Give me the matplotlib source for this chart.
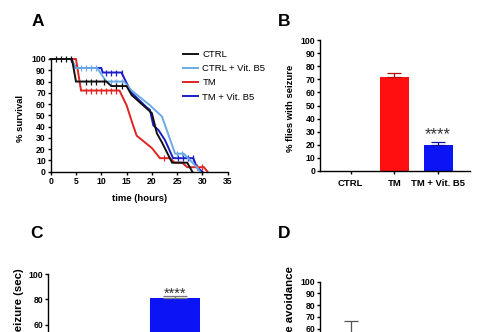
import numpy as np
import matplotlib.pyplot as plt

plt.rcParams['font.family'] = ['Liberation Sans', 'DejaVu Sans']
plt.rcParams['font.weight'] = 'bold'
plt.rcParams['axes.labelweight'] = 'bold'

W, H = 495, 332

# --- Panel A: survival curves (time in hours, % survival) ---
ctrl_t = [0, 4.2, 5, 11, 12, 15, 16, 19, 20, 21, 22, 24, 27, 28]
ctrl_s = [100, 100, 80, 80, 76, 76, 68, 56, 52, 34, 26, 8, 8, 0]
ctrl_cens_t = [1, 2, 3, 4, 7, 8, 9, 10.5, 13, 14]
ctrl_cens_s = [100, 100, 100, 100, 80, 80, 80, 80, 76, 76]

vit_t = [0, 4, 5, 9.2, 11, 14.5, 16, 19.6, 22, 24.6, 26.3, 28.9, 29.5]
vit_s = [100, 100, 92, 92, 80, 80, 72, 59, 49, 16, 16, 4, 0]
vit_cens_t = [6, 7, 8, 9, 12, 13, 14, 25, 26]
vit_cens_s = [92, 92, 92, 92, 80, 80, 80, 16, 16]

tm_t = [0, 5, 6, 13.6, 15, 16.3, 17, 20, 21.6, 23.6, 24.5, 26, 27, 30.3, 31]
tm_s = [100, 100, 72, 72, 59, 41, 32, 21, 12, 12, 8, 8, 4, 4, 0]
tm_cens_t = [7, 8, 9, 10, 11, 12, 13, 22.5, 29, 30]
tm_cens_s = [72, 72, 72, 72, 72, 72, 72, 12, 4, 4]

tmvit_t = [0, 4, 5, 10, 10.3, 14, 15.3, 16, 19, 19.6, 20.3, 21.3, 22.6, 23.6, 24.2, 28.2, 28.9, 30]
tmvit_s = [100, 100, 92, 92, 88, 88, 76, 70, 57, 55, 41, 37, 28, 18, 12, 12, 4, 0]
tmvit_cens_t = [11, 12, 13, 14, 25.2, 26.2, 27.2, 28.2]
tmvit_cens_s = [88, 88, 88, 88, 12, 12, 12, 12]

# --- Panel B: % flies with seizure ---
b_groups = ['CTRL', 'TM', 'TM + Vit. B5']
b_mean = [0, 72, 20]
b_err = [0, 2.6, 2.4]
b_stars = ['', '', '****']

# --- Panel C: seizure latency (only the top part is visible) ---
c_groups = ['TM', 'TM + Vit. B5']
c_mean = [40, 81]
c_err = [2, 1.5]
c_stars = ['', '****']

# --- Panel D: avoidance (only the top part is visible) ---
d_groups = ['CTRL']
d_mean = [55]
d_err = [11.5]

C_BLACK = '#111111'
C_LBLUE = '#6aaae6'
C_RED = '#e02424'
C_DBLUE = '#1c1cc8'
BAR_RED = '#ff0f0f'
BAR_BLUE = '#0a14f5'

fig = plt.figure(figsize=(W / 100, H / 100), dpi=100)


def px_axes(left, top, right, bottom):
    return fig.add_axes([left / W, 1 - bottom / H, (right - left) / W, (bottom - top) / H])


def style(ax):
    for s in ['top', 'right']:
        ax.spines[s].set_visible(False)
    for s in ['left', 'bottom']:
        ax.spines[s].set_linewidth(1.0)
    ax.tick_params(direction='out', length=2.5, width=1.0, pad=1, labelsize=6.2)


# A
axA = px_axes(50.7, 59, 227.7, 171.7)
style(axA)
series = [
    (tmvit_t, tmvit_s, tmvit_cens_t, tmvit_cens_s, C_DBLUE),
    (tm_t, tm_s, tm_cens_t, tm_cens_s, C_RED),
    (vit_t, vit_s, vit_cens_t, vit_cens_s, C_LBLUE),
    (ctrl_t, ctrl_s, ctrl_cens_t, ctrl_cens_s, C_BLACK),
]
for t, s, ct, cs, col in series:
    axA.plot(t, s, color=col, lw=1.4, clip_on=False, solid_joinstyle='miter')
    axA.plot(ct, cs, ls='none', marker='|', ms=4.5, mew=0.9, color=col, clip_on=False)
axA.set_xlim(0, 35)
axA.set_ylim(0, 100)
axA.set_xticks(np.arange(0, 36, 5))
axA.set_yticks(np.arange(0, 101, 10))
axA.set_xlabel('time (hours)', fontsize=6.8, labelpad=6)
axA.set_ylabel('% survival', fontsize=6.8)
axA.yaxis.set_label_coords(-0.145, 0.47)

handles = [plt.Line2D([], [], color=c, lw=1.4) for c in [C_BLACK, C_LBLUE, C_RED, C_DBLUE]]
fig.legend(handles, ['CTRL', 'CTRL + Vit. B5', 'TM', 'TM + Vit. B5'],
           loc='upper left', bbox_to_anchor=(183 / W, 1 - 50 / H),
           frameon=False, borderpad=0, borderaxespad=0, handlelength=1.6,
           handletextpad=0.45, labelspacing=0.55,
           prop={'size': 6.8, 'weight': 'normal'})


def bars(ax, groups, mean, err, colors, width, capsize, ecolor):
    pos = np.arange(len(groups))
    ax.bar(pos, mean, width=width, color=colors, clip_on=False)
    for p, m, e, ec in zip(pos, mean, err, ecolor):
        if e > 0:
            ax.errorbar(p, m, yerr=[[0], [e]], fmt='none', ecolor=ec,
                        elinewidth=0.9, capsize=capsize, capthick=0.9)
    return pos


# B
axB = px_axes(320, 40, 470, 171)
style(axB)
posB = bars(axB, b_groups, b_mean, b_err, ['white', BAR_RED, BAR_BLUE], 0.66, 4.8,
            ['#333333', '#b01010', '#1010a0'])
axB.set_xlim(-0.70, 2.73)
axB.set_ylim(0, 100)
axB.set_yticks(np.arange(0, 101, 10))
axB.set_xticks(posB, b_groups, fontsize=6.8)
axB.tick_params(axis='x', pad=3)
axB.set_ylabel('% flies with seizure', fontsize=6.8)
axB.yaxis.set_label_coords(-0.167, 0.48)
for p, m, e, st in zip(posB, b_mean, b_err, b_stars):
    if st:
        axB.annotate(st, xy=(p, m + e), xytext=(0, 2), textcoords='offset points',
                     ha='center', va='baseline', fontsize=12, fontweight='normal',
                     color='#333333')

# C
axC = px_axes(48.3, 274, 226.8, 401)
style(axC)
posC = bars(axC, c_groups, c_mean, c_err, [BAR_RED, BAR_BLUE], 0.67, 8.5,
            ['#b01010', '#777777'])
axC.set_xlim(-0.69, 1.69)
axC.set_ylim(0, 100)
axC.set_yticks(np.arange(0, 101, 20))
axC.set_xticks(posC, c_groups, fontsize=6.8)
axC.set_ylabel('Latency to seizure (sec)', fontsize=8.2)
axC.yaxis.set_label_coords(-0.136, 0.535)
for p, m, e, st in zip(posC, c_mean, c_err, c_stars):
    if st:
        axC.annotate(st, xy=(p, m + e), xytext=(0, -1), textcoords='offset points',
                     ha='center', va='baseline', fontsize=10.5, fontweight='normal',
                     color='#333333')

# D
axD = px_axes(320, 281.7, 470, 398.7)
style(axD)
posD = bars(axD, d_groups, d_mean, d_err, ['white'], 0.66, 5.0, ['#555555'])
axD.set_xlim(-0.70, 2.73)
axD.set_ylim(0, 100)
axD.set_yticks(np.arange(0, 101, 10))
axD.set_xticks(posD, d_groups, fontsize=6.8)
axD.set_ylabel('% Temperature avoidance', fontsize=8.2)
axD.yaxis.set_label_coords(-0.167, 0.53)

# panel letters
for x, y, s in [(31.5, 21, 'A'), (278, 21, 'B'), (30, 233, 'C'), (278, 233, 'D')]:
    fig.text(x / W, 1 - y / H, s, fontsize=12.5, fontweight='bold', va='center', ha='left')

fig.savefig('out.png', dpi=100)
